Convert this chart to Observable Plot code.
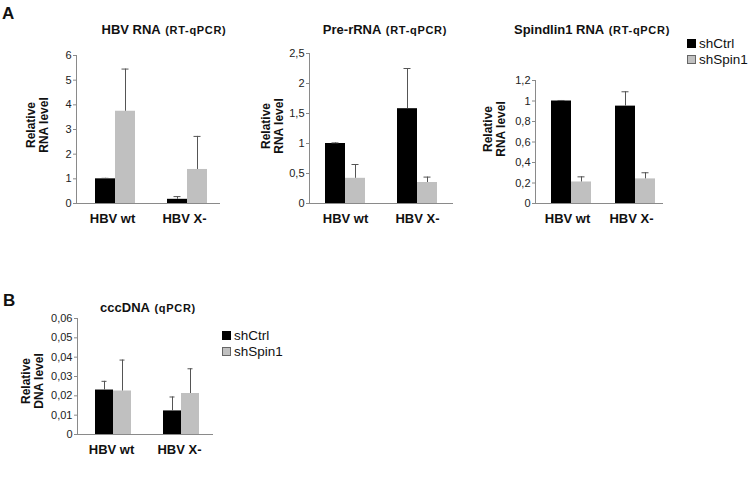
<!DOCTYPE html>
<html><head><meta charset="utf-8">
<script src="https://cdn.jsdelivr.net/npm/d3@7"></script>
<script src="https://cdn.jsdelivr.net/npm/@observablehq/plot@0.6"></script>
<style>
 body{margin:0;background:#fff;}
 #root{position:relative;width:751px;height:479px;overflow:hidden;font-family:"Liberation Sans",Arial,sans-serif;color:#111;}
 .abs{position:absolute;white-space:nowrap;}
 .ttl{transform:translateX(-50%);font-weight:bold;line-height:13px;}
 .ttl .sub{font-size:11px;letter-spacing:0.7px;}
 .ttl .main{font-size:13px;}
 .ylab{transform:translate(-50%,-50%) rotate(-90deg);font-weight:bold;font-size:12px;line-height:12.5px;text-align:center;}
 .panel{position:absolute;}
 .leg{font-size:13.5px;line-height:16px;}
 .sw{display:inline-block;width:9px;height:9px;margin-right:3px;vertical-align:0px;box-sizing:border-box;}
</style>
</head><body><div id="root"></div>
<script>
// ---- data ----
const groups = ["HBV wt", "HBV X-"];
const series = ["shCtrl", "shSpin1"];
const seriesColors = ["#000000", "#c0c0c0"];

// values ordered: [wt shCtrl, wt shSpin1, X- shCtrl, X- shSpin1]
const hbvRnaValues = [1.0, 3.74, 0.17, 1.38];
const hbvRnaErrors = [0.02, 1.71, 0.11, 1.34];
const hbvRnaTicks = [0, 1, 2, 3, 4, 5, 6];

const preRnaValues = [1.0, 0.42, 1.58, 0.35];
const preRnaErrors = [0.01, 0.23, 0.67, 0.09];
const preRnaTicks = [0, 0.5, 1, 1.5, 2, 2.5];

const spinValues = [1.0, 0.21, 0.95, 0.24];
const spinErrors = [0.005, 0.05, 0.14, 0.06];
const spinTicks = [0, 0.2, 0.4, 0.6, 0.8, 1, 1.2];

const cccValues = [0.023, 0.0225, 0.0122, 0.0212];
const cccErrors = [0.0045, 0.016, 0.0072, 0.0128];
const cccTicks = [0, 0.01, 0.02, 0.03, 0.04, 0.05, 0.06];

function rows(values, errors) {
  const out = [];
  groups.forEach((g, gi) => series.forEach((s, si) => {
    const i = gi * series.length + si;
    out.push({group: g, series: s, value: values[i], upper: values[i] + errors[i]});
  }));
  return out;
}
const fmt = d => d3.format("~g")(d).replace(".", ",");

const root = document.getElementById("root");
function add(html) { root.insertAdjacentHTML("beforeend", html); }

function panel(cfg) {
  const data = rows(cfg.values, cfg.errors);
  const mt = 8, mb = 30, ml = 40, mr = 5;
  const chart = Plot.plot({
    width: ml + cfg.plotW + mr,
    height: mt + cfg.plotH + mb,
    marginTop: mt, marginBottom: mb, marginLeft: ml, marginRight: mr,
    style: {background: "transparent", fontFamily: "'Liberation Sans', Arial, sans-serif", fontSize: "11px", color: "#222", overflow: "visible"},
    fx: {domain: groups, padding: 0, axis: null, label: null},
    x: {domain: series, paddingInner: 0, paddingOuter: cfg.po, align: cfg.align, axis: null},
    y: {domain: [0, cfg.ticks[cfg.ticks.length - 1]], axis: null},
    color: {domain: series, range: seriesColors},
    marks: [
      Plot.barY(data, {fx: "group", x: "series", y: "value", fill: "series"}),
      Plot.ruleX(data, {fx: "group", x: "series", y1: "value", y2: "upper", stroke: "#555", strokeWidth: 1}),
      Plot.tickY(data, {fx: "group", x: "series", y: "upper", stroke: "#555", strokeWidth: 1, insetLeft: 6.5, insetRight: 6.5}),
      Plot.ruleY([0], {stroke: "#8a8a8a"}),
      Plot.frame({anchor: "left", facetAnchor: "left", stroke: "#8a8a8a"}),
      Plot.axisY({ticks: cfg.ticks, tickFormat: fmt, tickSize: 3, tickPadding: 2, stroke: "#8a8a8a", fill: "#222", label: null}),
      Plot.axisFx({anchor: "bottom", tickSize: 0, tickPadding: 10, fontSize: 13, fontWeight: "bold", fill: "#111", label: null})
    ]
  });
  chart.classList.add("panel");
  chart.style.left = (cfg.axisX - ml) + "px";
  chart.style.top = (cfg.topY - mt) + "px";
  root.appendChild(chart);
}

panel({values: hbvRnaValues, errors: hbvRnaErrors, ticks: hbvRnaTicks, axisX: 75, topY: 55, plotW: 145, plotH: 148, po: 0.768, align: 0.6});
panel({values: preRnaValues, errors: preRnaErrors, ticks: preRnaTicks, axisX: 309, topY: 53, plotW: 144, plotH: 150, po: 0.756, align: 0.5});
panel({values: spinValues, errors: spinErrors, ticks: spinTicks, axisX: 535, topY: 80, plotW: 128, plotH: 123, po: 0.561, align: 0.67});
panel({values: cccValues, errors: cccErrors, ticks: cccTicks, axisX: 76, topY: 318, plotW: 137, plotH: 116, po: 0.80, align: 0.55});

// titles
add(`<div class="abs" style="left:2px;top:5px;font-weight:bold;font-size:17px;line-height:17px;">A</div>`);
add(`<div class="abs" style="left:3px;top:292px;font-weight:bold;font-size:17px;line-height:17px;">B</div>`);
add(`<div class="abs ttl" style="left:164px;top:22px;"><span class="main">HBV RNA</span> <span class="sub">(RT-qPCR)</span></div>`);
add(`<div class="abs ttl" style="left:385px;top:22px;"><span class="main">Pre-rRNA</span> <span class="sub">(RT-qPCR)</span></div>`);
add(`<div class="abs ttl" style="left:592px;top:22px;"><span class="main">Spindlin1 RNA</span> <span class="sub">(RT-qPCR)</span></div>`);
add(`<div class="abs ttl" style="left:148px;top:300px;"><span class="main">cccDNA</span> <span class="sub">(qPCR)</span></div>`);

// y labels
add(`<div class="abs ylab" style="left:37px;top:125px;">Relative<br>RNA level</div>`);
add(`<div class="abs ylab" style="left:272px;top:126px;">Relative<br>RNA level</div>`);
add(`<div class="abs ylab" style="left:494px;top:129px;">Relative<br>RNA level</div>`);
add(`<div class="abs ylab" style="left:32px;top:381px;">Relative<br>DNA level</div>`);

// legends
function legend(x, y) {
  add(`<div class="abs leg" style="left:${x}px;top:${y}px;">` +
    series.map((s, i) => `<div><span class="sw" style="background:${seriesColors[i]};border:1px solid ${i ? '#666' : '#000'}"></span>${s}</div>`).join("") +
    `</div>`);
}
legend(687, 36);
legend(222, 328);
</script>
</body></html>
